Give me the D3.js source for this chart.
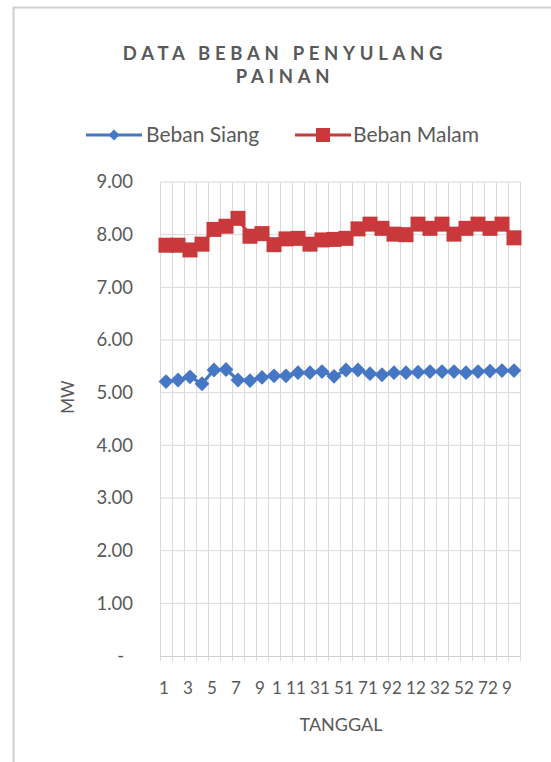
<!DOCTYPE html>
<html><head><meta charset="utf-8">
<script src="https://cdn.jsdelivr.net/npm/d3@7"></script>
<style>html,body{margin:0;padding:0;background:#fff;}svg{display:block;}</style>
</head><body>
<svg id="c" width="551" height="762"></svg>
<script>
const days = d3.range(1, 31);
const bebanSiang = [5.21,5.24,5.30,5.17,5.43,5.44,5.24,5.23,5.29,5.32,5.32,5.38,5.38,5.40,5.31,5.43,5.43,5.36,5.34,5.38,5.38,5.39,5.40,5.40,5.40,5.38,5.40,5.41,5.42,5.42];
const bebanMalam = [7.80,7.80,7.71,7.82,8.10,8.16,8.31,7.97,8.02,7.81,7.92,7.93,7.82,7.90,7.91,7.93,8.11,8.20,8.12,8.01,8.00,8.20,8.12,8.20,8.01,8.12,8.20,8.12,8.20,7.94];
const yTicks = [0,1,2,3,4,5,6,7,8,9];
const xTickLabels = ["1","3","5","7","9","11","13","15","17","19","21","23","25","27","29"];
const titleLines = ["DATA BEBAN PENYULANG","PAINAN"];
const seriesNames = ["Beban Siang","Beban Malam"];
const colors = ["#4677C4","#C9393B"];

const svg = d3.select("#c");
const font = "Lato, 'Open Sans', sans-serif";
const txt = "#595959";

svg.append("rect").attr("x",13.5).attr("y",7.5).attr("width",545).attr("height",770)
  .attr("fill","#fff").attr("stroke","#d0d0d0").attr("stroke-width",2);

const x = d3.scaleBand().domain(days).range([160, 520]);
const y = d3.scaleLinear().domain([0, 9]).range([656, 182]);

// gridlines
const g = svg.append("g");
g.selectAll(".hg").data(yTicks.slice(1)).join("line")
  .attr("x1",160).attr("x2",520).attr("y1",d=>y(d)).attr("y2",d=>y(d))
  .attr("stroke","#d9d9d9").attr("stroke-width",1);
const bounds = days.map(d=>x(d)).concat([x(days[days.length-1])+x.bandwidth()]);
g.selectAll(".vg").data(bounds).join("line")
  .attr("x1",d=>Math.round(d)+0.5).attr("x2",d=>Math.round(d)+0.5)
  .attr("y1",y(9)).attr("y2",y(0)+5)
  .attr("stroke","#d9d9d9").attr("stroke-width",1);
g.append("line").attr("x1",160).attr("x2",520).attr("y1",y(0)+0.5).attr("y2",y(0)+0.5)
  .attr("stroke","#d0d0d0").attr("stroke-width",1);

// y tick labels
svg.append("g").selectAll("text").data(yTicks).join("text")
  .attr("x",d=> d===0 ? 124 : 133).attr("y",d=>y(d)).attr("dy","0.35em")
  .attr("text-anchor","end").attr("font-family",font).attr("font-size",18.5).attr("fill",txt)
  .text(d=> d===0 ? "-" : d3.format(".2f")(d));

// x tick labels, character by character
const xl = svg.append("g").attr("font-family",font).attr("font-size",17).attr("fill",txt);
xTickLabels.forEach(lab=>{
  const c = x(+lab) + x.bandwidth()/2;
  const chars = lab.split("");
  chars.forEach((ch,j)=>{
    xl.append("text").attr("x", c + (j-(chars.length-1)/2)*14 - 2).attr("y",688).attr("dy","0.35em")
      .attr("text-anchor","middle").text(ch);
  });
});

// axis titles
svg.append("text").attr("x",341).attr("y",725).attr("dy","0.35em").attr("text-anchor","middle")
  .attr("font-family",font).attr("font-size",18).attr("fill",txt).text("TANGGAL");
svg.append("text").attr("transform","translate(68,397) rotate(-90)").attr("dy","0.35em")
  .attr("text-anchor","middle").attr("font-family",font).attr("font-size",17).attr("fill",txt).text("MW");

// title
svg.append("g").selectAll("text").data(titleLines).join("text")
  .attr("x",285).attr("y",(d,i)=>54+i*23).attr("dy","0.35em").attr("text-anchor","middle")
  .attr("font-family",font).attr("font-weight","bold").attr("font-size",18.5)
  .attr("letter-spacing",4.7).attr("fill",txt).text(d=>d);

// series
const line = d3.line().x((d,i)=>x(days[i])+x.bandwidth()/2).y(d=>y(d));
const series = [bebanSiang, bebanMalam];
series.forEach((s,k)=>{
  svg.append("path").datum(s).attr("d",line).attr("fill","none")
    .attr("stroke",colors[k]).attr("stroke-width",3.2);
});
// markers
svg.append("g").selectAll("path").data(bebanSiang).join("path")
  .attr("transform",(d,i)=>`translate(${x(days[i])+x.bandwidth()/2},${y(d)}) rotate(45)`)
  .attr("d", d3.symbol().type(d3.symbolSquare).size(110)).attr("fill",colors[0]);
svg.append("g").selectAll("rect").data(bebanMalam).join("rect")
  .attr("x",(d,i)=>x(days[i])+x.bandwidth()/2-7.5).attr("y",d=>y(d)-7.5)
  .attr("width",15).attr("height",15).attr("fill",colors[1]);

// legend
const lg = svg.append("g");
const legendItems = [{x1:86,x2:142,tx:146},{x1:295,x2:351,tx:353}];
legendItems.forEach((it,k)=>{
  lg.append("line").attr("x1",it.x1).attr("x2",it.x2).attr("y1",135).attr("y2",135)
    .attr("stroke",colors[k]).attr("stroke-width",3.2);
  const cx=(it.x1+it.x2)/2;
  if(k===0){
    lg.append("path").attr("transform",`translate(${cx},135) rotate(45)`)
      .attr("d", d3.symbol().type(d3.symbolSquare).size(60)).attr("fill",colors[0]);
  } else {
    lg.append("rect").attr("x",cx-7).attr("y",128).attr("width",14).attr("height",14).attr("fill",colors[1]);
  }
  lg.append("text").attr("x",it.tx).attr("y",135).attr("dy","0.35em")
    .attr("font-family",font).attr("font-size",21).attr("fill",txt).text(seriesNames[k]);
});
</script>
</body></html>
